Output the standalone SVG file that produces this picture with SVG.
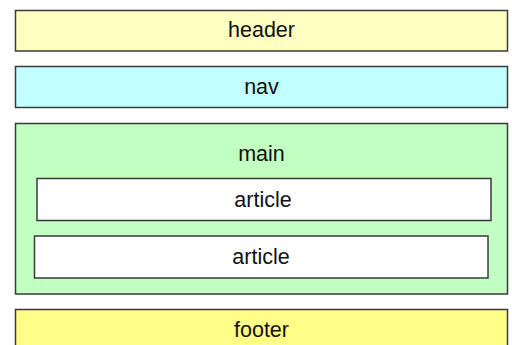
<svg xmlns="http://www.w3.org/2000/svg" width="512" height="345" viewBox="0 0 512 345">
<style>
rect{stroke:#3a3a3a;stroke-width:1.5}
text{font-family:"Liberation Sans",Arial,sans-serif;font-size:21.5px;fill:#111;text-anchor:middle}
</style>
<rect x="0" y="0" width="512" height="345" style="fill:#fff;stroke:none"/>
<g id="header"><rect x="15.5" y="10.5" width="492" height="40.5" fill="#ffffc2"/><text x="261.5" y="37">header</text></g>
<g id="nav"><rect x="15.5" y="66.5" width="492" height="41" fill="#c2ffff"/><text x="261.5" y="94">nav</text></g>
<g id="main"><rect x="15.5" y="123.5" width="492" height="170.5" fill="#c2ffc2"/><text x="261.5" y="161">main</text></g>
<g id="article1"><rect x="37" y="178.5" width="454" height="42" fill="#fff"/><text x="263" y="207">article</text></g>
<g id="article2"><rect x="34.5" y="236" width="453.5" height="42" fill="#fff"/><text x="261" y="264">article</text></g>
<g id="footer"><rect x="15.5" y="309.5" width="492" height="45" fill="#ffff88"/><text x="261.5" y="337">footer</text></g>
<g id="connectors"></g>
</svg>
